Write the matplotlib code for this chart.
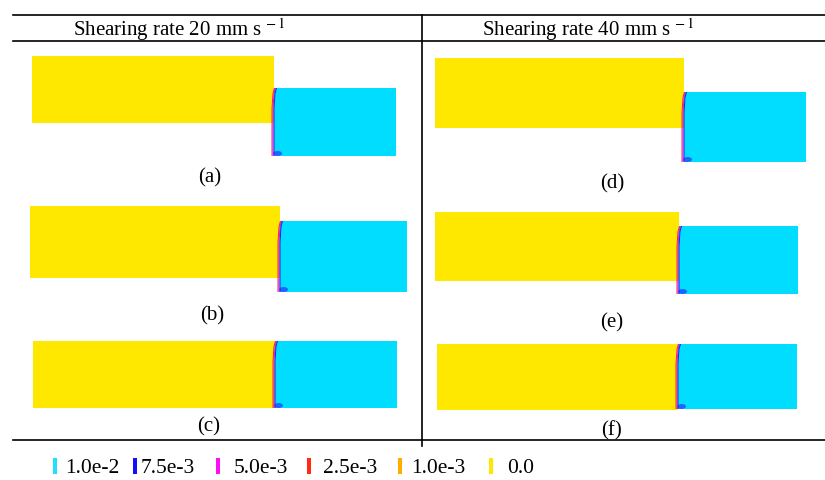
import numpy as np
import matplotlib
matplotlib.use("Agg")
import matplotlib.pyplot as plt
from matplotlib.patches import Rectangle, Ellipse

plt.rcParams["font.family"] = ["Liberation Serif", "DejaVu Serif"]
plt.rcParams["mathtext.fontset"] = "stix"

# column headers
headers = [r"Shearing rate 20 mm s$^{\,-1}$", r"Shearing rate 40 mm s$^{\,-1}$"]

# panels (a)-(f): yellow block (left) and cyan block (right), pixel units
panel_labels = ["(a)", "(b)", "(c)", "(d)", "(e)", "(f)"]
yellow_x0 = [32, 30, 33, 435, 435, 437]
yellow_x1 = [274, 280, 275, 684, 679, 678]
yellow_y0 = [57, 207, 342, 59, 213, 345]
yellow_y1 = [124, 279, 409, 129, 282, 411]
cyan_x1 = [396, 407, 397, 806, 798, 797]
cyan_y0 = [89, 222, 342, 93, 227, 345]
cyan_y1 = [157, 293, 409, 163, 295, 410]
label_x = [210, 212, 209, 612, 612, 612]
label_y = [178, 316, 427, 184, 323, 431]

# legend
legend_labels = ["1.0e-2", "7.5e-3", "5.0e-3", "2.5e-3", "1.0e-3", "0.0"]
legend_colors = ["#1fe0ff", "#1010ff", "#ff10f0", "#ff2a10", "#ffae00", "#ffe800"]
legend_bar_x = [55, 135, 218, 309, 400, 491]
legend_text_x = [65, 141, 234, 323, 411, 507]

yellow = "#ffe800"
cyan = "#00ddff"

fig = plt.figure(figsize=(8.25, 4.81), dpi=100)
ax = fig.add_axes([0, 0, 1, 1])
ax.set_xlim(0, 825)
ax.set_ylim(481, 0)
ax.axis("off")

# table lines
lw = 1.2
ax.plot([13, 825], [16, 16], color="black", lw=lw)
ax.plot([13, 825], [42, 42], color="black", lw=lw)
ax.plot([13, 825], [441, 441], color="black", lw=lw)
ax.plot([422, 422], [16, 447], color="black", lw=lw)

ax.text(73, 30, headers[0], fontsize=15, ha="left", va="center")
ax.text(482, 30, headers[1], fontsize=15, ha="left", va="center")

# slight "(" bow of the interface
bow_frac = np.array([0.0, 0.08, 0.3, 1.0])
bow_off = np.array([1.5, 0.0, -1.0, -1.0])

for i in range(6):
    ax.add_patch(Rectangle((yellow_x0[i], yellow_y0[i]),
                           yellow_x1[i] - yellow_x0[i], yellow_y1[i] - yellow_y0[i],
                           facecolor=yellow, edgecolor="none"))
    ax.add_patch(Rectangle((yellow_x1[i], cyan_y0[i]),
                           cyan_x1[i] - yellow_x1[i], cyan_y1[i] - cyan_y0[i],
                           facecolor=cyan, edgecolor="none"))
    ys = cyan_y0[i] + bow_frac * (cyan_y1[i] - cyan_y0[i])
    xs = yellow_x1[i] + bow_off
    ax.plot(xs - 1.0, ys, color="#ff2030", lw=0.7, solid_capstyle="butt")
    ax.plot(xs, ys, color="#e010f0", lw=0.7, solid_capstyle="butt")
    ax.plot(xs + 1.0, ys, color="#2020ff", lw=0.7, solid_capstyle="butt")
    ax.add_patch(Ellipse((yellow_x1[i] + 3.5, cyan_y1[i] - 2.5), 9, 5,
                         facecolor="#2a3cff", edgecolor="none", alpha=0.75))
    ax.text(label_x[i], label_y[i], panel_labels[i], fontsize=15,
            ha="center", va="center")

for bx, tx, c, lab in zip(legend_bar_x, legend_text_x, legend_colors, legend_labels):
    ax.add_patch(Rectangle((bx - 2, 459), 4, 16, facecolor=c, edgecolor="none"))
    ax.text(tx, 469, lab, fontsize=15.5, ha="left", va="center")

fig.savefig("out.png", dpi=100)
